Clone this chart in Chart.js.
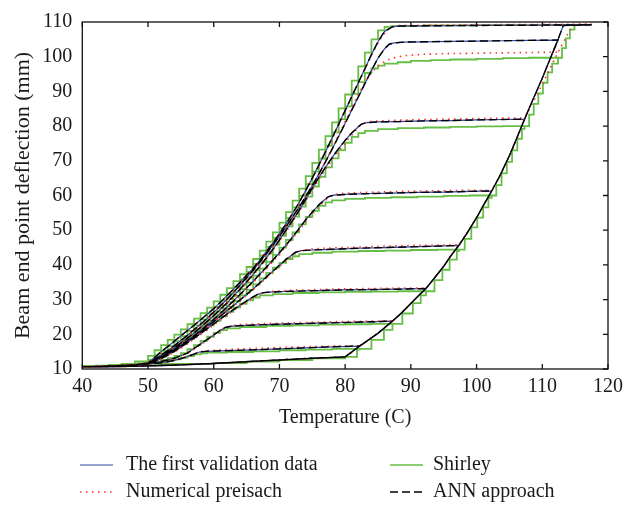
<!DOCTYPE html>
<html><head><meta charset="utf-8">
<script src="https://cdn.jsdelivr.net/npm/chart.js@4.4.1/dist/chart.umd.min.js"></script>
<style>html,body{margin:0;padding:0;background:#fff;}#wrap{width:629px;height:508px;position:relative;}</style>
</head><body><div id="wrap"><canvas id="c" width="629" height="508"></canvas></div>
<script>
// ---------- tick labels ----------
const xTicks = [40, 50, 60, 70, 80, 90, 100, 110, 120];
const yTicks = [10, 20, 30, 40, 50, 60, 70, 80, 90, 100, 110];
const seriesLabels = ['The first validation data', 'Numerical preisach', 'Shirley', 'ANN approach'];

// ---------- heating along the bottom (shared by validation / preisach / ANN) ----------
const heatBottomT = [40, 45, 50, 55, 60, 65, 70, 75, 80];
const heatBottomY = [10.6, 10.7, 10.9, 11.2, 11.6, 12.1, 12.6, 13.1, 13.5];

// ---------- validation data (also followed by the ANN approach) ----------
const valRiseT = [80,80.5,81.2,82.2,83.5,85,86,87.2,88.5,90,91,92.3,93.5,95,96,97.3,98.5,100,101,102.3,103.5,105,106,107.3,108.5,110,111,112.4,113.2,117.5];
const valRiseY = [13.5,14.2,15.2,16.6,18.3,20.3,21.9,23.8,26.0,28.9,30.8,33.2,36.0,39.6,42.4,45.6,49.0,53.6,57.0,61.3,65.5,71.5,76.0,82.0,87.3,93.8,98.5,105.0,109.0,109.2];
const valCoolT = [
  [82.2,78,74,70,66,62,59,57.8,57,56,55,54,53,52,51,50,48,45,40],
  [87.2,84,80,76,72,68,64,62.6,61.8,61,60,59,58,57,56,55,54,53,52,51,50,48,45,40],
  [92.3,88,84,80,76,72,69,67.6,66.8,66,65,64,63,62,61,60,59,58,57,56,55,54,53,52,51,50,48,45,40],
  [97.3,94,90,86,82,78,75,73.3,72.4,72,71,70,69,68,67,66,65,64,63,62,61,60,59,58,57,56,55,54,53,52,51,50,48,45,40],
  [102.3,99,95,91,87,83,80,78.3,77.5,77,76,75,74,73,72,71,70,69,68,67,66,65,64,63,62,61,60,59,58,57,56,55,54,53,52,51,50,48,45,40],
  [107.3,104,100,96,92,88,85,83.3,82.5,82,81,80,79,78,77,76,75,74,73,72,71,70,69,68,67,66,65,64,63,62,61,60,59,58,57,56,55,54,53,52,51,50,48,45,40],
  [112.4,108,104,100,96,92,89,87.5,86.7,86,85,84,83,82,81,80,79,78,77,76,75,74,73,72,71,70,69,68,67,66,65,64,63,62,61,60,59,58,57,56,55,54,53,52,51,50,48,45,40],
  [117.5,110,100,92,88,87.2,87,86,85,84,83,82,81,80,79,78,77,76,75,74,73,72,71,70,69,68,67,66,65,64,63,62,61,60,59,58,57,56,55,54,53,52,51,50,48,45,40]
];
const valCoolY = [
  [16.6,16.4,16.1,15.8,15.5,15.3,15.1,14.9,14.3,13.6,13.0,12.5,12.1,11.8,11.6,11.5,11.2,10.9,10.6],
  [23.8,23.6,23.4,23.2,23.0,22.8,22.5,22.3,22.0,21.2,19.8,18.5,17.2,15.9,14.6,13.8,13.1,12.6,12.2,11.9,11.7,11.2,10.9,10.6],
  [33.2,33.0,32.9,32.8,32.6,32.4,32.2,32.0,31.6,30.8,29.6,28.4,27.1,25.8,24.4,23.0,21.6,20.2,18.9,17.6,16.3,15.1,14.0,13.0,12.3,11.7,11.2,10.9,10.6],
  [45.6,45.4,45.2,45.0,44.8,44.5,44.3,44.1,43.6,43.0,41.6,39.9,38.2,36.5,34.8,33.1,31.5,29.9,28.3,26.8,25.2,23.7,22.2,20.7,19.3,17.9,16.7,15.5,14.4,13.4,12.5,11.7,11.2,10.9,10.6],
  [61.3,61.2,61.0,60.9,60.7,60.5,60.3,60.1,59.7,59.0,57.3,55.2,53.0,50.5,48.0,45.7,43.5,41.4,39.3,37.3,35.3,33.4,31.5,29.6,27.8,26.0,24.3,22.7,21.1,19.6,18.2,16.9,15.6,14.5,13.5,12.6,11.7,11.2,10.9,10.6],
  [82.0,81.9,81.8,81.6,81.5,81.3,81.2,81.0,80.6,79.8,78.0,75.9,73.5,70.9,68.1,65.2,62.1,58.9,55.7,52.8,50.0,47.2,44.5,42.0,39.6,37.3,35.1,33.0,31.0,29.0,27.2,25.4,23.7,22.0,20.4,18.9,17.5,16.1,14.8,13.6,12.6,11.7,11.2,10.9,10.6],
  [104.8,104.7,104.6,104.5,104.4,104.3,104.2,104.0,103.6,102.3,99.6,96.0,92.2,88.4,84.6,80.8,77.0,73.3,69.7,66.2,62.9,59.7,56.7,53.8,51.0,48.3,45.7,43.2,40.8,38.5,36.3,34.2,32.1,30.1,28.2,26.4,24.6,22.9,21.3,19.7,18.2,16.7,15.3,14.0,12.8,11.7,11.2,10.9,10.6],
  [109.2,109.1,109.0,108.9,108.8,108.6,108.4,107.3,104.3,100.6,96.5,92.5,88.5,84.5,80.5,76.5,72.6,68.8,65.0,61.5,58.0,54.8,51.8,49.0,46.3,43.8,41.3,39.0,37.0,35.0,33.0,31.1,29.2,27.4,25.8,24.2,22.6,21.1,19.6,18.0,16.5,15.0,13.3,11.7,11.2,10.9,10.6]
];

// ---------- numerical Preisach ----------
const preRiseT = [80,80.5,81.2,82.2,83.5,85,86,87.2,88.5,90,91,92.3,93.5,95,96,97.3,98.5,100,101,102.3,103.5,105,106,107.3,108.5,110,111,112.4,113.5,114.7,117.5];
const preRiseY = [13.5,14.1,15.1,16.7,18.3,20.4,21.9,23.9,26.0,28.9,30.8,33.3,36.0,39.6,42.4,45.8,49.0,53.7,57.0,61.5,65.4,71.3,75.6,82.3,86.6,92.0,96.0,101.3,105.2,109.3,109.4];
const preCoolT = [
  [82.2,78,74,70,66,62,59,58,57,56,54,52,50,48,45,40],
  [87.2,84,80,76,72,68,64,62.5,61.5,60,58,56,54,52,50,48,45,40],
  [92.3,88,84,80,76,72,69,67.5,66.5,65,63,61,59,57,55,53,51,50,48,45,40],
  [97.3,94,90,86,82,78,75,73.3,72.3,71,69,67,65,63,61,59,57,55,53,51,50,48,45,40],
  [102.3,99,95,91,87,83,80,78.3,77.3,76,74,72,70,68,66,64,62,60,58,56,54,52,50,48,45,40],
  [107.3,104,100,96,92,88,85,83.3,82.3,81,79,77,75,73,71,69,67,65,63,61,59,57,55,53,51,50,48,45,40],
  [112.4,108,104,100,96,92,89,87,86,85,84,83,82,81,80,78,76,74,72,70,68,66,64,62,60,58,56,54,52,50,48,45,40],
  [117.5,110,100,92,88,87.3,86.5,85.5,84.5,83,81,79,77,75,73,71,69,67,65,63,61,59,57,55,53,51,50,48,45,40]
];
const preCoolY = [
  [16.7,16.6,16.4,16.2,15.9,15.6,15.3,15.0,14.3,13.6,12.5,11.8,11.5,11.2,10.9,10.6],
  [23.9,23.8,23.7,23.5,23.3,23.1,22.8,22.4,21.5,19.6,17.0,14.5,13.0,12.1,11.7,11.2,10.9,10.6],
  [33.3,33.3,33.2,33.1,32.9,32.7,32.4,32.0,31.0,29.4,26.8,24.1,21.3,18.6,16.0,13.8,12.2,11.7,11.2,10.9,10.6],
  [45.8,45.7,45.6,45.4,45.1,44.9,44.6,44.2,43.1,41.2,37.9,34.5,31.2,28.0,24.9,21.9,19.0,16.4,14.1,12.3,11.7,11.2,10.9,10.6],
  [61.5,61.5,61.4,61.3,61.1,60.9,60.7,60.3,59.1,56.8,52.5,47.6,43.1,38.9,34.9,31.1,27.4,23.9,20.7,17.8,15.2,13.2,11.7,11.2,10.9,10.6],
  [82.3,82.3,82.2,82.0,81.9,81.7,81.5,81.2,80.2,77.4,72.8,67.6,61.6,55.3,49.6,44.2,39.3,34.8,30.7,26.9,23.4,20.1,17.2,14.6,12.4,11.7,11.2,10.9,10.6],
  [101.3,101.2,101.1,101.0,100.9,100.7,100.3,99.5,98.6,97.3,95.4,92.6,89.1,85.3,81.3,73.5,66.0,59.5,53.6,48.0,42.9,38.2,33.9,29.8,26.1,22.6,19.4,16.4,13.8,11.7,11.2,10.9,10.6],
  [109.4,109.3,109.2,109.1,109.0,108.7,107.8,105.6,102.3,96.4,88.4,80.3,72.4,64.9,57.9,51.7,46.2,41.2,36.9,32.9,29.1,25.7,22.5,19.5,16.4,13.3,11.7,11.2,10.9,10.6]
];

// ---------- Shirley (sampled, drawn as a staircase) ----------
const shBottomT = [40, 44, 48, 50, 52, 55, 60, 65, 70, 75, 80];
const shBottomY = [10.8, 11.0, 11.3, 11.5, 11.5, 11.5, 11.7, 12.1, 12.6, 13.1, 13.5];
const shRiseT = [80,81.8,82.2,84,85.9,87.2,88.7,90.3,91.5,92.3,93.6,94.8,95.9,97.0,97.3,98.2,99.2,100.1,101.0,101.8,102.3,103.0,103.8,104.6,105.4,106.2,106.9,107.3,108.0,108.7,109.4,110.1,110.8,111.5,112.4,113.0,113.6,114.2,114.9,117.5];
const shRiseY = [13.5,15.6,15.8,18.4,21.3,23.0,26.0,29.0,31.2,32.4,35.6,38.6,41.5,44.0,44.4,47.5,50.8,53.6,56.6,59.3,60.0,63.0,66.4,69.7,73.0,76.3,79.2,80.0,83.3,86.4,89.4,92.5,95.5,98.0,99.7,102.5,105.3,107.8,109.2,109.2];
const shCoolT = [
  [82.2,78,74,70,66,62,59,58,57,56,55,54,53,52,51,50,48,46,44,42,40],
  [87.2,84,80,76,72,68,64,62,61,60,59,58,57,56,55,54,53,52,51,50,48,46,44,42,40],
  [92.3,88,84,80,76,72,69,67,66,65,64,63,62,61,60,59,58,57,56,55,54,53,52,51,50,48,46,44,42,40],
  [97.3,94,90,86,82,78,75,73,72,71,70,69,68,67,66,65,64,63,62,61,60,59,58,57,56,55,54,53,52,51,50,48,46,44,42,40],
  [102.3,99,95,91,87,83,80,78,77,76,75,74,73,72,71,70,69,68,67,66,65,64,63,62,61,60,59,58,57,56,55,54,53,52,51,50,48,46,44,42,40],
  [107.3,104,100,96,92,88,85,83,82,81,80,79,78,77,76,75,74,73,72,71,70,69,68,67,66,65,64,63,62,61,60,59,58,57,56,55,54,53,52,51,50,48,46,44,42,40],
  [112.4,108,104,100,96,93,90,88,86,85,84,83,82,81,80,79,78,77,76,75,74,73,72,71,70,69,68,67,66,65,64,63,62,61,60,59,58,57,56,55,54,53,52,51,50,48,46,44,42,40],
  [117.5,110,100,92,88,87,86,85,84,83,82,81,80,79,78,77,76,75,74,73,72,71,70,69,68,67,66,65,64,63,62,61,60,59,58,57,56,55,54,53,52,51,50,48,46,44,42,40]
];
const shCoolY = [
  [15.8,15.6,15.4,15.1,14.9,14.7,14.5,14.2,13.7,13.2,12.8,12.4,12.1,11.9,11.7,11.5,11.3,11.1,11.0,10.9,10.8],
  [23.0,22.9,22.8,22.6,22.4,22.1,21.7,21.2,20.4,19.3,18.1,16.9,15.7,14.6,13.8,13.1,12.6,12.2,11.9,11.6,11.3,11.1,11.0,10.9,10.8],
  [32.4,32.3,32.2,32.1,31.9,31.6,31.2,30.6,29.8,28.8,27.7,26.5,25.2,23.9,22.6,21.3,20.0,18.7,17.4,16.2,15.0,13.9,13.0,12.2,11.6,11.3,11.1,11.0,10.9,10.8],
  [44.4,44.3,44.1,44.0,43.8,43.5,43.1,42.5,41.7,40.6,39.2,37.7,36.1,34.4,32.8,31.2,29.6,28.0,26.5,24.9,23.4,21.9,20.4,19.0,17.6,16.4,15.2,14.1,13.1,12.3,11.6,11.3,11.1,11.0,10.9,10.8],
  [60.0,59.9,59.7,59.5,59.3,59.0,58.6,58.0,57.0,55.6,53.8,51.7,49.4,47.2,45.0,42.9,40.9,38.9,36.9,34.9,33.0,31.1,29.3,27.5,25.7,24.0,22.4,20.8,19.3,17.9,16.5,15.3,14.2,13.2,12.3,11.6,11.3,11.1,11.0,10.9,10.8],
  [80.0,79.9,79.8,79.6,79.4,79.1,78.6,78.0,76.9,75.2,73.1,70.7,68.1,65.4,62.6,59.7,56.8,53.9,51.1,48.4,45.8,43.3,40.9,38.6,36.4,34.3,32.3,30.3,28.4,26.6,24.8,23.1,21.5,19.9,18.4,17.0,15.6,14.4,13.3,12.4,11.6,11.3,11.1,11.0,10.9,10.8],
  [99.7,99.6,99.4,99.2,99.0,98.8,98.4,98.0,97.4,96.6,95.3,92.7,89.3,85.7,82.0,78.2,74.4,70.6,66.9,63.3,59.9,56.6,53.5,50.6,47.8,45.2,42.7,40.3,38.0,35.8,33.7,31.7,29.7,27.8,26.0,24.3,22.6,21.0,19.5,18.0,16.6,15.2,13.9,12.7,11.6,11.3,11.1,11.0,10.9,10.8],
  [109.2,109.1,109.0,108.9,108.8,108.6,107.6,105.0,101.2,97.2,93.1,89.1,85.1,81.1,77.1,73.2,69.4,65.6,62.0,58.5,55.2,52.2,49.4,46.7,44.1,41.7,39.4,37.3,35.3,33.3,31.4,29.5,27.7,26.1,24.5,22.9,21.4,19.9,18.4,16.9,15.4,13.8,12.2,11.5,11.2,11.0,10.9,10.8]
];

// ---------- build the loop paths from the arrays ----------
// splitLoops: start each loop as its own stroke so dot patterns line up on shared segments
function loopPath(bT, bY, rT, rY, cT, cY, splitLoops) {
  const pts = [];
  for (let k = 0; k < cT.length; k++) {
    const turn = cT[k][0];
    if (splitLoops && k > 0) pts.push({x: bT[0], y: null});
    bT.forEach((t, i) => pts.push({x: t, y: bY[i]}));
    rT.forEach((t, i) => { if (t > 80 && t < turn) pts.push({x: t, y: rY[i]}); });
    cT[k].forEach((t, i) => pts.push({x: t, y: cY[k][i]}));
  }
  return pts;
}

const FONT = "'Liberation Serif', 'Times New Roman', serif";
const TXT = '#1a1a1a';

const framePlugin = {
  id: 'frame',
  afterDatasetsDraw(chart) {
    const {ctx, chartArea: a, scales: {x, y}} = chart;
    ctx.save();
    ctx.strokeStyle = '#111';
    ctx.lineWidth = 1.3;
    ctx.setLineDash([]);
    ctx.strokeRect(a.left, a.top, a.right - a.left, a.bottom - a.top);
    ctx.beginPath();
    x.ticks.forEach(t => {
      const p = x.getPixelForValue(t.value);
      ctx.moveTo(p, a.bottom); ctx.lineTo(p, a.bottom - 5);
      ctx.moveTo(p, a.top); ctx.lineTo(p, a.top + 5);
    });
    y.ticks.forEach(t => {
      const p = y.getPixelForValue(t.value);
      ctx.moveTo(a.right, p); ctx.lineTo(a.right - 5, p);
    });
    ctx.stroke();
    ctx.restore();
  }
};

const legendSlots = [
  {ds: 0, x: 80, tx: 126, y: 465},
  {ds: 1, x: 80, tx: 126, y: 492},
  {ds: 2, x: 390, tx: 433, y: 465},
  {ds: 3, x: 390, tx: 433, y: 492}
];
const legendPlugin = {
  id: 'legendGrid',
  afterDraw(chart) {
    const ctx = chart.ctx;
    ctx.save();
    ctx.font = '20px ' + FONT;
    ctx.textBaseline = 'middle';
    ctx.textAlign = 'left';
    legendSlots.forEach(s => {
      const d = chart.data.datasets[s.ds];
      ctx.strokeStyle = d.borderColor;
      ctx.lineWidth = Math.min(d.borderWidth, 1.5);
      ctx.setLineDash(d.borderDash || []);
      ctx.beginPath();
      ctx.moveTo(s.x, s.y); ctx.lineTo(s.x + 33, s.y);
      ctx.stroke();
      ctx.setLineDash([]);
      ctx.fillStyle = TXT;
      ctx.fillText(d.label, s.tx, s.y);
    });
    ctx.restore();
  }
};

new Chart(document.getElementById('c'), {
  type: 'scatter',
  data: {
    datasets: [
      {label: seriesLabels[0], data: loopPath(heatBottomT, heatBottomY, valRiseT, valRiseY, valCoolT, valCoolY, false),
       borderColor: '#2c46a6', borderWidth: 1.2, showLine: true, pointRadius: 0, order: 2},
      {label: seriesLabels[1], data: loopPath(heatBottomT, heatBottomY, preRiseT, preRiseY, preCoolT, preCoolY, true),
       borderColor: '#ff2e2e', borderWidth: 1.6, borderDash: [1.5, 4.5], showLine: true, spanGaps: false, pointRadius: 0, order: 1},
      {label: seriesLabels[2], data: loopPath(shBottomT, shBottomY, shRiseT, shRiseY, shCoolT, shCoolY, false),
       borderColor: '#66be45', borderWidth: 1.8, stepped: 'before', showLine: true, pointRadius: 0, order: 3},
      {label: seriesLabels[3], data: loopPath(heatBottomT, heatBottomY, valRiseT, valRiseY, valCoolT, valCoolY, false),
       borderColor: '#000000', borderWidth: 1.4, borderDash: [8, 4], showLine: true, pointRadius: 0, order: 0}
    ]
  },
  options: {
    responsive: false,
    animation: false,
    devicePixelRatio: 1,
    layout: {padding: {left: 10.3, right: 17.3, top: 20.7, bottom: 78}},
    plugins: {legend: {display: false}, tooltip: {enabled: false}},
    scales: {
      x: {
        type: 'linear', min: 40, max: 120,
        afterBuildTicks: s => { s.ticks = xTicks.map(v => ({value: v})); },
        grid: {display: false, drawTicks: false}, border: {display: false},
        ticks: {padding: 6, color: TXT, font: {family: FONT, size: 20}},
        title: {display: true, text: 'Temperature (C)', color: TXT, font: {family: FONT, size: 20}, padding: 0},
        afterFit: s => { s.height = 61; }
      },
      y: {
        type: 'linear', min: 10, max: 110,
        afterBuildTicks: s => { s.ticks = yTicks.map(v => ({value: v})); },
        grid: {display: false, drawTicks: false}, border: {display: false},
        ticks: {padding: 10, color: TXT, font: {family: FONT, size: 20}},
        title: {display: true, text: 'Beam end point deflection (mm)', color: TXT, font: {family: FONT, size: 22}, padding: 0},
        afterFit: s => { s.width = 72; }
      }
    }
  },
  plugins: [framePlugin, legendPlugin]
});
</script></body></html>
